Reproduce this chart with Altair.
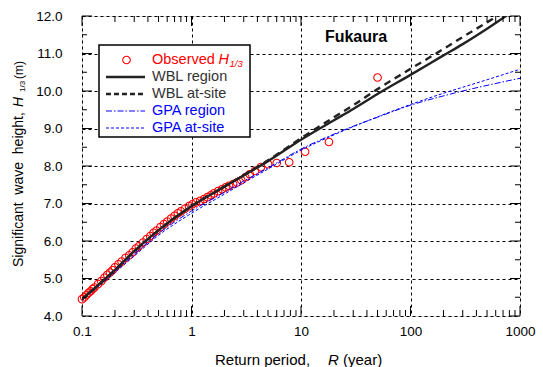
import altair as alt
import pandas as pd

# ---------------- data ----------------
obs_R = [0.100, 0.105, 0.110, 0.115, 0.120, 0.125, 0.130, 0.140, 0.150, 0.160,
         0.170, 0.180, 0.190, 0.200, 0.215, 0.230, 0.250, 0.270, 0.290, 0.310,
         0.330, 0.360, 0.390, 0.420, 0.450, 0.480, 0.520, 0.560, 0.600, 0.650,
         0.700, 0.750, 0.800, 0.870, 0.950, 1.02, 1.10, 1.20, 1.30, 1.40,
         1.50, 1.60, 1.75, 1.90, 2.05, 2.20, 2.40, 2.60, 2.85, 3.10,
         3.40, 3.80, 4.30, 5.00, 6.00, 7.80, 10.9, 18.0, 50.0]
obs_H = [4.45, 4.50, 4.56, 4.62, 4.66, 4.72, 4.76, 4.85, 4.93, 5.02,
         5.10, 5.16, 5.22, 5.30, 5.38, 5.45, 5.55, 5.62, 5.70, 5.80,
         5.86, 5.96, 6.05, 6.13, 6.22, 6.28, 6.37, 6.45, 6.52, 6.60,
         6.67, 6.74, 6.79, 6.86, 6.93, 6.98, 7.03, 7.07, 7.12, 7.17,
         7.22, 7.27, 7.33, 7.38, 7.43, 7.47, 7.52, 7.56, 7.62, 7.70,
         7.78, 7.87, 7.97, 8.05, 8.08, 8.10, 8.38, 8.64, 10.36]

curve_R = [0.1, 0.2, 0.3, 0.5, 1, 2, 3, 5, 10, 20, 30, 50, 100, 200, 300, 500, 1000]
wbl_region = [4.45, 5.23, 5.73, 6.29, 6.93, 7.45, 7.75, 8.13, 8.70, 9.22, 9.52, 9.92,
              10.43, 10.95, 11.25, 11.66, 12.26]
wbl_atsite = [4.44, 5.22, 5.72, 6.28, 6.93, 7.45, 7.76, 8.15, 8.74, 9.30, 9.62, 10.05,
              10.59, 11.12, 11.44, 11.83, 12.38]
gpa_region = [4.45, 5.20, 5.65, 6.20, 6.80, 7.30, 7.60, 7.95, 8.45, 8.85, 9.06, 9.30,
              9.62, 9.87, 10.00, 10.15, 10.34]
gpa_atsite = [4.42, 5.16, 5.60, 6.15, 6.74, 7.25, 7.55, 7.92, 8.42, 8.83, 9.05, 9.31,
              9.64, 9.94, 10.10, 10.30, 10.58]

x_major = [0.1, 1, 10, 100, 1000]
x_minor = [m * 10 ** e for e in range(-1, 3) for m in range(2, 10)]
y_major = [4, 5, 6, 7, 8, 9, 10, 11, 12]
y_minor = [4.5, 5.5, 6.5, 7.5, 8.5, 9.5, 10.5, 11.5]

legend_labels = ["Observed ", "WBL region", "WBL at-site", "GPA region", "GPA at-site"]
legend_text_colors = ["#ff0000", "#333333", "#333333", "#0000ff", "#0000ff"]

site_name = "Fukaura"

# ---------------- styling ----------------
W, H = 438, 300
FONT = "Liberation Sans"
BLACK = "#222222"
BLUE = "#0000ff"
RED = "#ff0000"
NB = "\u00a0"

xs = alt.Scale(type="log", domain=[0.1, 1000], nice=False)
ys = alt.Scale(domain=[4, 12], nice=False, zero=False)

ax_x = alt.Axis(orient="bottom", values=x_major, format="~g", grid=True,
                gridDash=[3, 3], gridColor="black", gridWidth=1, gridOpacity=1,
                ticks=False, tickSize=0, domain=False, labelPadding=8,
                labelFlush=False, labelOverlap=False,
                labelFontSize=13.5, labelColor="black", labelFont=FONT,
                title=None)
ax_y = alt.Axis(orient="left", values=y_major, format=".1f", grid=True,
                gridDash=[3, 3], gridColor="black", gridWidth=1, gridOpacity=1,
                ticks=False, tickSize=0, domain=False, labelPadding=20,
                labelFlush=False, labelOverlap=False,
                labelFontSize=13.5, labelColor="black", labelFont=FONT,
                title=None)

X = lambda f: alt.X(f, scale=xs, axis=ax_x)
Y = lambda f: alt.Y(f, scale=ys, axis=ax_y)

obs_df = pd.DataFrame({"R": obs_R, "H": obs_H})


def curve_df(vals):
    return pd.DataFrame({"R": curve_R, "H": vals})


points = alt.Chart(obs_df).mark_point(
    shape="circle", filled=False, color=RED, size=58, strokeWidth=1.1, opacity=1
).encode(x=X("R:Q"), y=Y("H:Q"))


def curve(vals, **style):
    return alt.Chart(curve_df(vals)).mark_line(
        interpolate="monotone", clip=True, **style
    ).encode(x=X("R:Q"), y=Y("H:Q"))


line_wr = curve(wbl_region, color=BLACK, strokeWidth=2.4)
line_wa = curve(wbl_atsite, color=BLACK, strokeWidth=2.4, strokeDash=[7, 5])
line_gr = curve(gpa_region, color=BLUE, strokeWidth=1, strokeDash=[6, 2, 1.5, 2])
line_ga = curve(gpa_atsite, color=BLUE, strokeWidth=1, strokeDash=[3, 2])


# inward ticks on all four edges, placed through the scales
def xticks(vals, y0, y1):
    return alt.Chart(pd.DataFrame({"v": vals})).mark_rule(color="black", strokeWidth=1).encode(
        x=X("v:Q"), y=alt.value(y0), y2=alt.value(y1))


def yticks(vals, x0, x1):
    return alt.Chart(pd.DataFrame({"v": vals})).mark_rule(color="black", strokeWidth=1).encode(
        y=Y("v:Q"), x=alt.value(x0), x2=alt.value(x1))


MAJ, MIN = 10, 6
tick_layers = [
    xticks(x_major, H, H - MAJ), xticks(x_minor, H, H - MIN),
    xticks(x_major, 0, MAJ), xticks(x_minor, 0, MIN),
    yticks(y_major, 0, MAJ), yticks(y_minor, 0, MIN - 1),
    yticks(y_major, W, W - MAJ), yticks(y_minor, W, W - MIN + 1),
]

one = pd.DataFrame({"k": [0]})


def txt(s, x, y, size=14, color="black", style="normal", weight="normal",
        align="left", baseline="middle", angle=0):
    kw = dict(text=s, fontSize=size, color=color, font=FONT, fontStyle=style,
              fontWeight=weight, align=align, baseline=baseline)
    if angle:
        kw["angle"] = angle
    return alt.Chart(one).mark_text(**kw).encode(x=alt.value(x), y=alt.value(y))


# legend box
leg_x0, leg_x1, leg_y0, leg_y1 = 17, 168, 29, 121
legend_box = alt.Chart(one).mark_rect(
    fill="white", stroke="black", strokeWidth=1.5
).encode(x=alt.value(leg_x0), x2=alt.value(leg_x1), y=alt.value(leg_y0), y2=alt.value(leg_y1))

row_y = [44 + 17 * i for i in range(5)]
sym_x0, sym_x1, text_x = 24, 63, 70

leg_layers = [legend_box]
leg_layers.append(alt.Chart(one).mark_point(shape="circle", filled=False, color=RED,
                                            size=58, strokeWidth=1.1, opacity=1)
                  .encode(x=alt.value(44.5), y=alt.value(row_y[0])))
line_styles = [
    dict(color=BLACK, strokeWidth=2.4),
    dict(color=BLACK, strokeWidth=2.4, strokeDash=[5, 3]),
    dict(color=BLUE, strokeWidth=1, strokeDash=[6, 2, 1.5, 2]),
    dict(color=BLUE, strokeWidth=1, strokeDash=[3, 2]),
]
for i, st in enumerate(line_styles):
    leg_layers.append(alt.Chart(one).mark_rule(**st).encode(
        x=alt.value(sym_x0), x2=alt.value(sym_x1),
        y=alt.value(row_y[i + 1]), y2=alt.value(row_y[i + 1])))
for i, lab in enumerate(legend_labels):
    leg_layers.append(txt(lab, text_x, row_y[i], size=14.5, color=legend_text_colors[i]))
leg_layers.append(txt("H", 136.5, row_y[0], size=14.5, color=RED, style="italic"))
leg_layers.append(txt("1/3", 147.5, row_y[0] + 4, size=9.5, color=RED, style="italic"))

# site name
site = txt(site_name, 274, 21, size=16, weight="bold", align="center")

# axis titles
xt = [
    txt("Return period,", 133, 344, size=15),
    txt("R", 246, 344, size=15, style="italic"),
    txt("(year)", 261, 344, size=15),
]
yt = [
    txt("Significant" + NB * 2 + "wave" + NB * 2 + "height,", -63, 251, size=14, angle=270),
    txt("H", -63, 91, size=14, angle=270, style="italic"),
    txt("1/3", -59, 76, size=8, angle=270),
    txt("(m)", -63, 63, size=12, angle=270),
]

chart = alt.layer(
    points, line_gr, line_ga, line_wr, line_wa, *tick_layers, *leg_layers, site, *xt, *yt
).properties(
    width=W, height=H,
    padding={"left": 82, "top": 16, "right": 23, "bottom": 51},
    autosize="none",
).configure_view(stroke="black", strokeWidth=2).configure(background="white")

chart.save("out.html", embed_options={"renderer": "svg", "actions": False})
